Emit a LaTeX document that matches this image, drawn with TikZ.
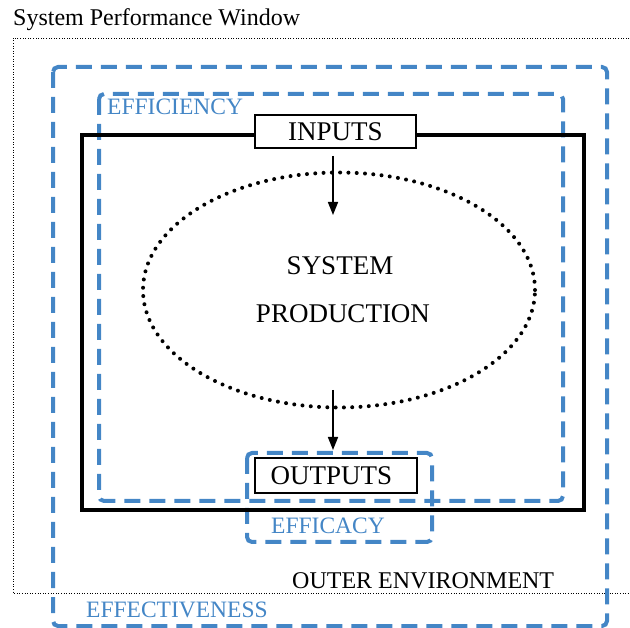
\documentclass[tikz,border=0pt]{standalone}
\usepackage{fontspec}
\setmainfont{Liberation Serif}
\usetikzlibrary{shapes.geometric,arrows.meta}
\definecolor{effblue}{RGB}{68,134,198}
\begin{document}
\begin{tikzpicture}[x=1pt,y=-1pt,
  window/.style={line width=0.9pt,dash pattern=on 1pt off 1.6pt},
  bluebox/.style={draw=effblue,line width=4pt,dash pattern=on 16pt off 9pt,rounded corners=5pt},
  sysbox/.style={draw=black,line width=4pt},
  flowbox/.style={draw=black,fill=white,line width=2.7pt,font=\fontsize{27}{32}\selectfont,
    text height=18pt,text depth=0pt,inner sep=0pt},
  prodcloud/.style={ellipse,draw=black,line width=4pt,line cap=round,dash pattern=on 0pt off 8.3pt,
    minimum width=392pt,minimum height=235pt,inner sep=0pt,align=center,
    font=\fontsize{27}{48}\selectfont},
  bluelabel/.style={text=effblue,font=\fontsize{23.5}{28}\selectfont,anchor=base west,inner sep=0pt},
  plainlabel/.style={font=\fontsize{24}{28}\selectfont,anchor=base west,inner sep=0pt},
  flow/.style={line width=1.6pt,-{Triangle[length=13pt,width=10pt]}}
]
\useasboundingbox (0,0) rectangle (630,628);

% performance window (dotted, open to the right)
\draw[window] (632,38) -- (13,38) -- (13,593) -- (632,593);
\node[plainlabel] (title) at (13,26) {System Performance Window};

% effectiveness boundary
\draw[bluebox] (53,67) rectangle (607,626);
\node[bluelabel] (effectiveness) at (86,617) {EFFECTIVENESS};

% efficiency boundary
\draw[bluebox] (99,94) rectangle (563,501);
\node[bluelabel] (efficiency) at (107,115) {EFFICIENCY};

% efficacy boundary
\draw[bluebox] (247,453) rectangle (432,542);
\node[bluelabel] (efficacy) at (271,534) {EFFICACY};

% the system itself
\draw[sysbox] (82,135) rectangle (584,510);

\node[plainlabel] (outer) at (292,588) {OUTER ENVIRONMENT};

% production core
\node[prodcloud] (prod) at (339,290) {\hspace{2pt}SYSTEM\\\hspace{8pt}PRODUCTION};

% inputs and outputs
\node[flowbox,minimum width=161pt,minimum height=33pt] (inputs) at (335.5,131.5) {INPUTS};
\node[flowbox,minimum width=162pt,minimum height=35pt] (outputs) at (336,475.5) {OUTPUTS\kern9pt};

% flow arrows
\coordinate (inStart) at (333,156);
\coordinate (inEnd) at (333,215);
\coordinate (outStart) at (333,390);
\coordinate (outEnd) at (333,450);
\draw[flow] (inStart) -- (inEnd);
\draw[flow] (outStart) -- (outEnd);
\end{tikzpicture}
\end{document}
